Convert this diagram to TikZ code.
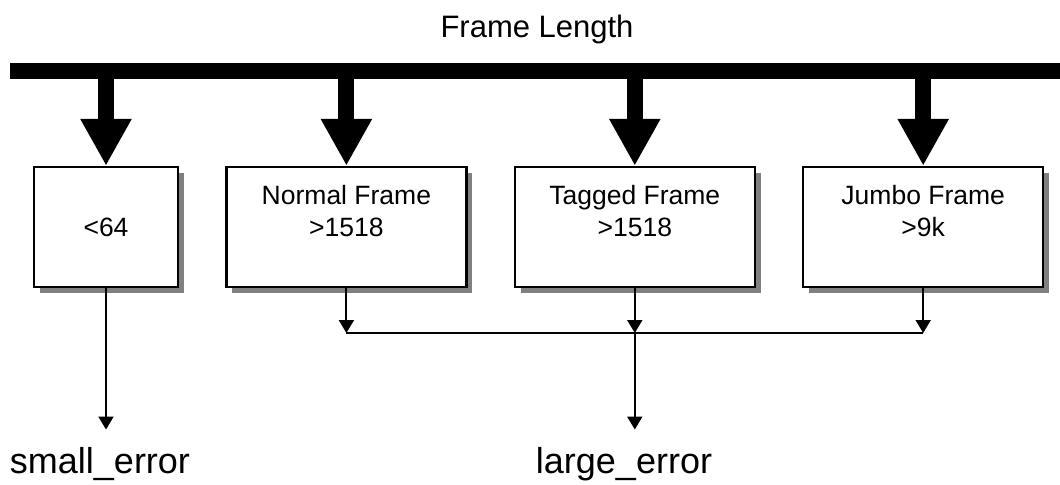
\documentclass[tikz,border=0pt]{standalone}
\usepackage{fontspec}
\setmainfont{Liberation Sans}
\usetikzlibrary{positioning}
\usetikzlibrary{arrows.meta}
\usetikzlibrary{shadows}

\begin{document}
\begin{tikzpicture}[framebox/.style={rectangle, draw=black, fill=white, line width=1.2pt, minimum height=60pt, align=center, font=\fontsize{13.25}{16}\selectfont, drop shadow={shadow xshift=3pt, shadow yshift=-3pt, fill=black!50, opacity=1}},
bigarrow/.style={line width=8pt, -{Triangle[width=24pt,length=23.5pt]}},
smallarrow/.style={line width=1pt, -{Triangle[width=7.5pt,length=6.5pt]}},
errlabel/.style={font=\fontsize{18}{22}\selectfont, inner sep=8.5pt, anchor=base},
node distance=23pt]
\useasboundingbox (0,0) rectangle (530pt,242pt);

\coordinate (busleft) at (5pt,206.5pt);
\coordinate (busright) at (530pt,206.5pt);
\node[font=\fontsize{15.5}{18}\selectfont, anchor=base] (title) at (268.5pt,223.5pt) {Frame Length};

\node[framebox, minimum width=72pt] (tiny) at (53pt,128.5pt) {<64};
\node[framebox, minimum width=120pt] (normal) [right=of tiny] {Normal Frame\\>1518\\~};
\node[framebox, minimum width=120pt] (tagged) [right=of normal] {Tagged Frame\\>1518\\~};
\node[framebox, minimum width=120pt] (jumbo) [right=of tagged] {Jumbo Frame\\>9k\\~};

\node[errlabel] (small) at (50pt,5.5pt) {small\_error};
\node[errlabel] (large) at (312pt,5.5pt) {large\_error};

\draw[line width=8pt] (busleft) -- (busright);
\draw[bigarrow] (busleft -| tiny.north) -- (tiny.north);
\draw[bigarrow] (busleft -| normal.north) -- (normal.north);
\draw[bigarrow] (busleft -| tagged.north) -- (tagged.north);
\draw[bigarrow] (busleft -| jumbo.north) -- (jumbo.north);

\coordinate[below=22.4pt of tagged] (merge);
\draw[line width=1pt] (normal.south |- merge) -- (jumbo.south |- merge);
\draw[smallarrow] (normal.south) -- (normal.south |- merge);
\draw[smallarrow] (tagged.south) -- (merge);
\draw[smallarrow] (jumbo.south) -- (jumbo.south |- merge);
\draw[smallarrow] (merge) -- (merge |- large.north);
\draw[smallarrow] (tiny.south) -- (tiny.south |- small.north);
\end{tikzpicture}
\end{document}
